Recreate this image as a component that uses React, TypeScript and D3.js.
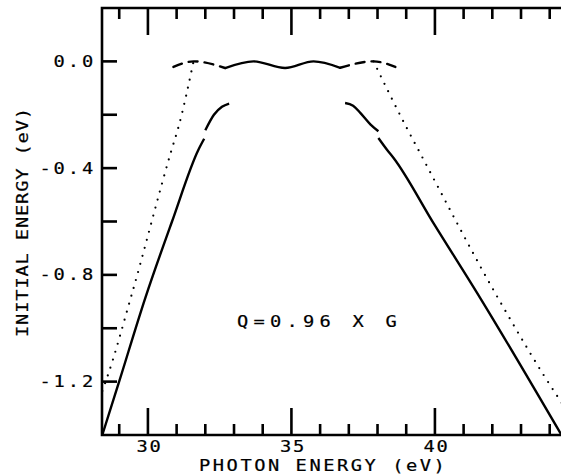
import React, { useEffect, useRef } from "react";
import * as d3 from "d3";

// photon energy (eV) vs initial energy (eV)
const waveX = [30.89, 31.59, 32.69, 33.68, 34.78, 35.77, 36.7, 37.86, 38.62];
const waveY = [-0.021, 0.0, -0.025, 0.0, -0.025, 0.0, -0.024, 0.0, -0.021];

const leftLowX = [28.41, 28.98, 29.91, 30.84, 31.76, 31.96];
const leftLowY = [-1.4, -1.206, -0.886, -0.6, -0.331, -0.29];
const leftTopX = [32.0, 32.3, 32.58, 32.83];
const leftTopY = [-0.258, -0.2, -0.17, -0.158];

const rightTopX = [36.87, 37.15, 37.4, 37.75, 38.03];
const rightTopY = [-0.156, -0.166, -0.193, -0.236, -0.262];
const rightLowX = [38.03, 38.33, 38.56, 39.95, 41.58, 44.41];
const rightLowY = [-0.287, -0.331, -0.362, -0.606, -0.887, -1.4];

const dotLeftX = [28.41, 28.57, 29.44, 30.81, 31.07, 31.59];
const dotLeftY = [-1.235, -1.187, -0.872, -0.337, -0.244, 0.0];
const dotRightX = [37.86, 39.02, 39.45, 42.22, 44.31, 44.55];
const dotRightY = [0.0, -0.25, -0.337, -0.891, -1.262, -1.3];

const xMajor = [30, 35, 40];
const xMinor = d3.range(29, 45);
const yTicks = [0, -0.2, -0.4, -0.6, -0.8, -1.0, -1.2];
const yLabels = ["0.0", "-0.4", "-0.8", "-1.2"];
const xTitle = "PHOTON ENERGY (eV)";
const yTitle = "INITIAL ENERGY (eV)";
const note = "Q=0.96 X G";

const W = 561, H = 476;
const FONT = "'DejaVu Sans Mono', monospace";
const SX = 1.25; // plotter glyphs are wider than DejaVu's

function pts(xs: number[], ys: number[]) {
  return xs.map((x, i) => [x, ys[i]] as [number, number]);
}

// monospaced plotter text: every glyph at its own x, stretched a bit
function mono(g: any, str: string, x0: number, y: number, pitch: number) {
  const xs = str.split("").map((c, i) => (i * pitch) / SX);
  g.append("g")
    .attr("transform", `translate(${x0},${y}) scale(${SX},1)`)
    .append("text")
    .attr("x", xs.join(" "))
    .attr("y", 0)
    .attr("font-family", FONT)
    .attr("font-size", 15)
    .attr("fill", "#000")
    .attr("stroke", "#000")
    .attr("stroke-width", 0.2)
    .text(str);
}

export default function App() {
  const ref = useRef<SVGSVGElement>(null);

  useEffect(() => {
    const svg = d3.select(ref.current);
    svg.selectAll("*").remove();

    const x = d3.scaleLinear().domain([28.4, 44.55]).range([102, 565.5]);
    const y = d3.scaleLinear().domain([-1.4, 0.2]).range([435, 8]);
    const x0 = x(28.4), y0 = y(-1.4), yTop = y(0.2);

    const line = d3.line<[number, number]>()
      .x(d => x(d[0]))
      .y(d => y(d[1]))
      .curve(d3.curveMonotoneX);

    const plot = svg.append("g");
    const draw = (data: [number, number][], dash: string | null, w: number) => {
      const p = plot.append("path")
        .attr("d", line(data))
        .attr("fill", "none")
        .attr("stroke", "#000")
        .attr("stroke-width", w);
      if (dash) p.attr("stroke-dasharray", dash).attr("stroke-linecap", "round");
    };

    const wave = pts(waveX, waveY);
    draw(wave.slice(0, 3), "9 7", 2.4);
    draw(wave.slice(2, 7), null, 2.4);
    draw(wave.slice(6), "9 7", 2.4);

    draw(pts(leftLowX, leftLowY), null, 2.4);
    draw(pts(leftTopX, leftTopY), null, 2.4);
    draw(pts(rightTopX, rightTopY), null, 2.4);
    draw(pts(rightLowX, rightLowY), null, 2.4);

    draw(pts(dotLeftX, dotLeftY), "0 8.3", 2.2);
    draw(pts(dotRightX, dotRightY), "0 8.3", 2.2);

    // frame
    const ax = svg.append("g").attr("stroke", "#000").attr("stroke-width", 2.6).attr("fill", "none");
    ax.append("path").attr("d", `M${W + 5},${yTop}H${x0}V${y0}H${W + 5}`);

    xMinor.forEach(v => {
      const len = xMajor.includes(v) ? 27 : 11;
      ax.append("line").attr("x1", x(v)).attr("x2", x(v)).attr("y1", y0).attr("y2", y0 - len);
      ax.append("line").attr("x1", x(v)).attr("x2", x(v)).attr("y1", yTop).attr("y2", yTop + len);
    });
    yTicks.forEach(v => {
      ax.append("line").attr("x1", x0).attr("x2", x0 + 15).attr("y1", y(v)).attr("y2", y(v));
    });

    const txt = svg.append("g");
    yLabels.forEach(s => {
      const v = +s;
      const n = s.length;
      mono(txt, s, 82 - (n - 1) * 14.2, y(v) + 5.5, 14.2);
    });
    xMajor.forEach(v => {
      const s = String(v);
      mono(txt, s, x(v) - 11.5, 452, 13);
    });
    mono(txt, xTitle, 199, 470.5, 13.8);
    mono(txt, note, 237, 327, 16.5);

    const yt = txt.append("g").attr("transform", "translate(28,337) rotate(-90)");
    mono(yt, yTitle, 0, 0, 12.1);
  }, []);

  return (
    <svg ref={ref} width={W} height={H}
      style={{ position: "absolute", left: 0, top: 0, background: "#fff" }} />
  );
}
